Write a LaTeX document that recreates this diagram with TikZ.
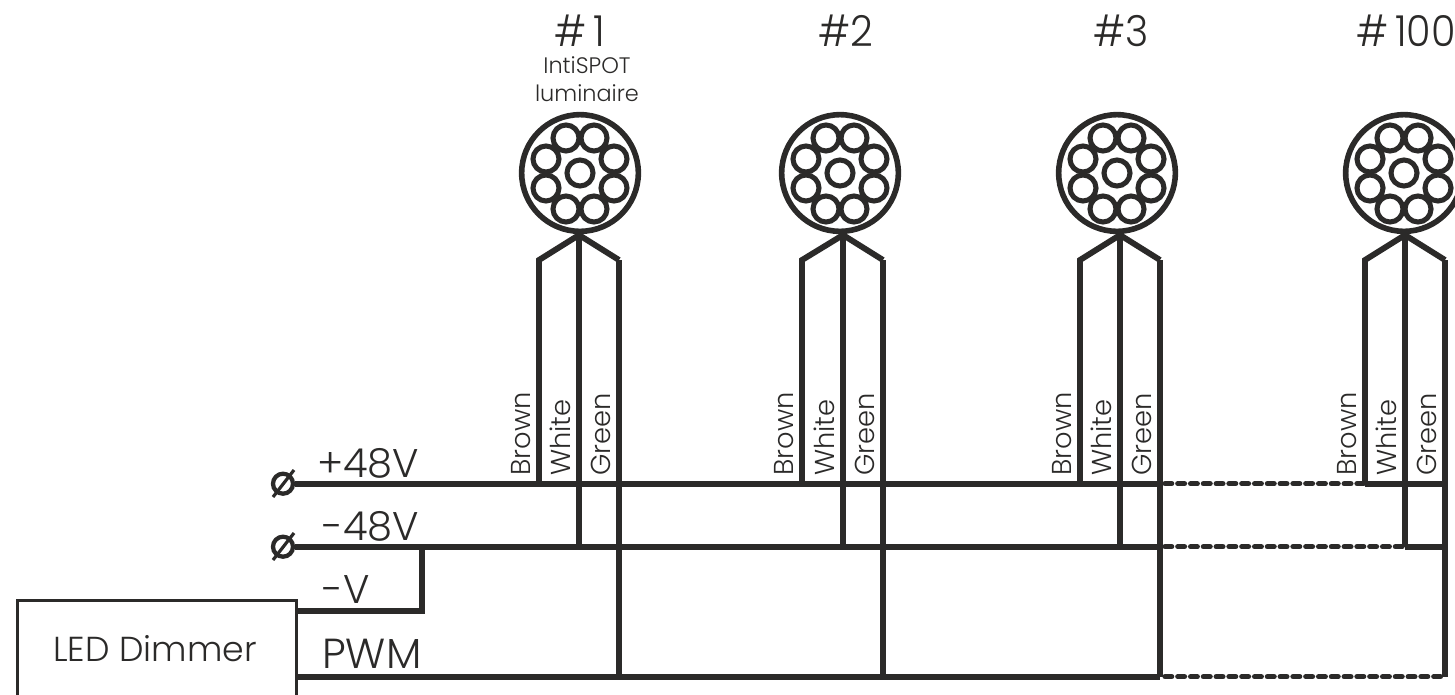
\documentclass[tikz,border=0pt]{standalone}
\usepackage{fontspec}
\setmainfont{Poppins Light}
\definecolor{ink}{HTML}{2B2A29}
\tikzset{
  wire/.style={draw=ink,line width=4.4pt,line cap=butt,line join=miter},
  wirethin/.style={draw=ink,line width=4pt,line join=miter},
  wirefat/.style={draw=ink,line width=5pt,line join=miter},
  dashwire/.style={draw=ink,line width=4pt,line cap=round,dash pattern=on 5pt off 4.6pt},
  numlabel/.style={text=ink,font=\fontsize{32}{32}\selectfont,inner sep=0pt,xscale=.93,transform shape},
  wirelabel/.style={text=ink,font=\fontsize{20.5}{20.5}\selectfont,inner sep=0pt,rotate=90,anchor=south west},
  smalllabel/.style={text=ink,font=\fontsize{16.8}{21}\selectfont,inner sep=0pt,align=center},
  rail/.style={text=ink,font=\fontsize{30}{30}\selectfont,inner sep=0pt,anchor=base west},
  term/.style={circle,draw=ink,line width=3.2pt,minimum size=15pt,inner sep=0pt},
  box/.style={draw=ink,line width=2.6pt},
}
\newcommand{\lum}[7]{% id, cx, left, mid, right, number, numx
  \node[circle,draw=ink,line width=4.2pt,minimum size=87.5pt,inner sep=0pt] (#1c) at (#2,173) {};
  \foreach \dx/\dy/\k in {-14/-35/a,14/-35/b,-34/-14/c,34/-14/d,-34/15/e,34/15/f,-14/36/g,14/36/h,0/0/i}
    \node[circle,draw=ink,line width=3.8pt,minimum size=19.5pt,inner sep=0pt] (#1\k) at ({#2+\dx},{173+\dy}) {};
  \coordinate (#1apex) at (#4,235);
  \coordinate (#1sl) at (#3,260);
  \coordinate (#1sr) at (#5,260);
  \coordinate (#1bb) at (#3,483.7);
  \coordinate (#1wb) at (#4,546.7);
  \coordinate (#1gb) at (#5,676.7);
  \draw[wire] (#1bb) -- (#1sl) -- (#1apex) -- (#1sr);
  \draw[wirefat] (#1sr) -- (#1gb);
  \draw[wirethin] (#1apex) -- (#1wb);
  \node[numlabel] (#1n) at (#7,31) {#6};
  \node[wirelabel] (#1lb) at ({#3-8},476) {Brown};
  \node[wirelabel] (#1lw) at ({#4-8},476) {White};
  \node[wirelabel] (#1lg) at ({#5-8},476) {Green};
}
\begin{document}
\begin{tikzpicture}[x=0.75pt,y=-0.75pt]
\useasboundingbox (0,0) rectangle (1455,694);
\lum{A}{580}{539}{579}{619}{\#\,1}{580}
\lum{B}{840}{802}{843}{883}{\#2}{846}
\lum{C}{1117}{1080}{1120}{1160}{\#3}{1121}
\lum{D}{1404}{1365}{1405}{1445}{\#\,100}{1406}
\node[smalllabel] (sub) at (587,79) {IntiSPOT\\luminaire};
% terminals
\node[term] (t1) at (283,483.7) {};
\node[term] (t2) at (283,546.7) {};
\coordinate (s1a) at (273,497); \coordinate (s1b) at (294,470);
\coordinate (s2a) at (273,560); \coordinate (s2b) at (294,533);
\draw[draw=ink,line width=2.4pt] (s1a) -- (s1b);
\draw[draw=ink,line width=2.4pt] (s2a) -- (s2b);
% dimmer
\node[box,minimum width=209pt,minimum height=90pt,anchor=north west,inner sep=0pt] (dim) at (16,599) {};
\node[text=ink,font=\fontsize{26}{26}\selectfont,inner sep=0pt] (dl) at (155,649) {LED Dimmer};
% rails
\coordinate (r1e) at (1160,483.7);
\coordinate (r2e) at (1160,546.7);
\coordinate (r3e) at (1160,676.7);
\coordinate (r3s) at (295,676.7);
\coordinate (vs) at (295,611);
\coordinate (vc) at (421.7,611);
\coordinate (vt) at (421.7,546.7);
\draw[wire] (t1.east) -- (r1e);
\draw[wire] (t2.east) -- (r2e);
\draw[wire] (r3s) -- (r3e);
\draw[draw=ink,line width=4.6pt] (vs) -- (vc) -- (vt);
\draw[dashwire] (r1e) ++(5,0) -- (Dbb);
\draw[dashwire] (r2e) ++(5,0) -- (Dwb);
\draw[dashwire] (r3e) ++(5,0) -- (Dgb);
\coordinate (d1e) at (1445,483.7);
\coordinate (d2e) at (1445,546.7);
\draw[wire] (Dbb) -- (d1e);
\draw[wire] (Dwb) -- (d2e);
% rail labels
\node[rail] (l1) at (317,477) {+48V};
\node[rail] (l2) at (322,540) {-48V};
\node[rail] (l3) at (322,603) {-V};
\node[rail,font=\fontsize{31.5}{31.5}\selectfont] (l4) at (322,668) {PWM};
\end{tikzpicture}
\end{document}
